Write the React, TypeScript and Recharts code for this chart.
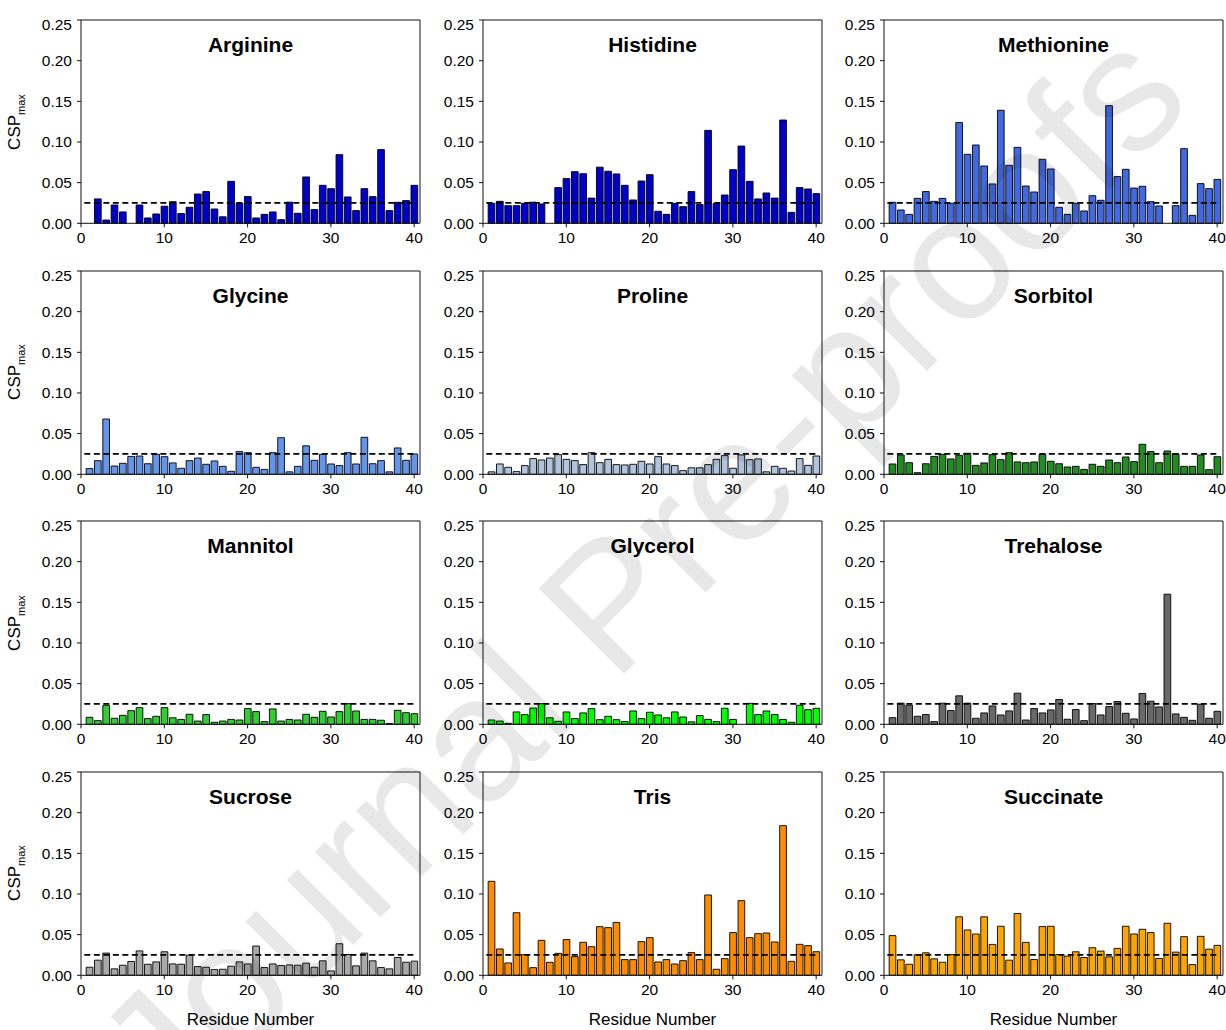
import React from 'react'
import { BarChart, Bar, XAxis, YAxis, ReferenceLine } from 'recharts'

// residue numbers (x categories)
const residues = [
  1, 2, 3, 4, 5, 6, 7, 8, 9, 10, 11, 12, 13, 14, 15, 16, 17, 18, 19, 20,
  21, 22, 23, 24, 25, 26, 27, 28, 29, 30, 31, 32, 33, 34, 35, 36, 37, 38, 39, 40,
]
const xTicks = [0, 10, 20, 30, 40]
const yTicks = [0, 0.05, 0.1, 0.15, 0.2, 0.25]
const threshold = 0.025

// CSP max per residue (null = no bar)
const arginine = [null, 0.030, 0.004, 0.0225, 0.014, null, 0.0225, 0.0066, 0.0115, 0.021, 0.0266, 0.012, 0.0197, 0.036, 0.039, 0.0176, 0.008, 0.0516, 0.0246, 0.0328, 0.0066, 0.011, 0.014, 0.0045, 0.026, 0.0123, 0.057, 0.017, 0.0467, 0.0426, 0.0844, 0.0324, 0.0156, 0.0426, 0.0328, 0.0906, 0.0156, 0.0258, 0.0279, 0.0467]
const histidine = [0.0246, 0.027, 0.0217, 0.0217, 0.0246, 0.026, 0.0238, null, 0.0439, 0.055, 0.0635, 0.061, 0.031, 0.069, 0.064, 0.0607, 0.0467, 0.0287, 0.052, 0.0598, 0.0148, 0.011, 0.0246, 0.0205, 0.039, 0.023, 0.1143, 0.0242, 0.0348, 0.066, 0.095, 0.0516, 0.030, 0.0373, 0.031, 0.127, 0.0135, 0.0439, 0.0422, 0.0365]
const methionine = [0.0258, 0.0164, 0.011, 0.0307, 0.039, 0.027, 0.0307, 0.0246, 0.124, 0.0848, 0.0963, 0.0705, 0.0484, 0.139, 0.0713, 0.0934, 0.0459, 0.0385, 0.0787, 0.0668, 0.0197, 0.011, 0.0246, 0.0152, 0.034, 0.0283, 0.1447, 0.0574, 0.0664, 0.0434, 0.0455, 0.0266, 0.0213, null, 0.0217, 0.0918, 0.0098, 0.0488, 0.0426, 0.054]
const glycine = [0.007, 0.0168, 0.068, 0.0102, 0.0135, 0.022, 0.0225, 0.013, 0.0246, 0.0217, 0.014, 0.0074, 0.0168, 0.020, 0.0123, 0.0164, 0.0098, 0.0037, 0.0279, 0.0266, 0.0086, 0.006, 0.0266, 0.045, 0.003, 0.0098, 0.035, 0.0172, 0.0246, 0.0127, 0.0107, 0.0266, 0.0127, 0.0455, 0.013, 0.0168, 0.003, 0.0324, 0.0172, 0.025]
const proline = [0.003, 0.0127, 0.0086, 0.0033, 0.0107, 0.0193, 0.0176, 0.020, 0.0242, 0.0184, 0.0168, 0.0119, 0.0266, 0.0143, 0.0184, 0.0119, 0.0115, 0.0123, 0.016, 0.0127, 0.0217, 0.0127, 0.0107, 0.0045, 0.008, 0.008, 0.0119, 0.0184, 0.023, 0.0074, 0.0238, 0.018, 0.0189, 0.003, 0.0098, 0.0074, 0.004, 0.0193, 0.011, 0.0225]
const sorbitol = [0.0127, 0.0238, 0.0143, 0.002, 0.013, 0.022, 0.0246, 0.0189, 0.0234, 0.0258, 0.011, 0.014, 0.0242, 0.018, 0.0266, 0.0152, 0.0143, 0.0152, 0.0246, 0.016, 0.013, 0.009, 0.0098, 0.006, 0.0123, 0.0098, 0.0176, 0.0143, 0.0213, 0.0156, 0.0369, 0.0279, 0.0143, 0.0287, 0.025, 0.0098, 0.0098, 0.0238, 0.0057, 0.0217]
const mannitol = [0.0086, 0.0045, 0.0234, 0.0074, 0.011, 0.0168, 0.0205, 0.007, 0.0098, 0.0205, 0.008, 0.006, 0.0123, 0.004, 0.0119, 0.0025, 0.004, 0.006, 0.0053, 0.0193, 0.0156, 0.0033, 0.0189, 0.004, 0.006, 0.0053, 0.0123, 0.0086, 0.016, 0.009, 0.0156, 0.0254, 0.0164, 0.006, 0.006, 0.005, 0.001, 0.0172, 0.0143, 0.013]
const glycerol = [0.0053, 0.004, 0.0012, 0.0152, 0.0119, 0.020, 0.0254, 0.008, 0.0037, 0.0152, 0.007, 0.014, 0.0193, 0.0057, 0.0098, 0.0057, 0.0033, 0.0164, 0.007, 0.0148, 0.0115, 0.008, 0.0152, 0.009, 0.003, 0.0107, 0.006, 0.0033, 0.0197, 0.006, null, 0.0258, 0.0119, 0.0164, 0.0119, 0.006, 0.0025, 0.0234, 0.018, 0.0197]
const trehalose = [0.0082, 0.026, 0.0235, 0.0099, 0.012, 0.0033, 0.026, 0.0169, 0.035, 0.026, 0.0074, 0.014, 0.0226, 0.0115, 0.0165, 0.0383, 0.0053, 0.0193, 0.014, 0.0177, 0.0305, 0.0062, 0.0181, 0.0045, 0.0255, 0.0115, 0.0218, 0.028, 0.0136, 0.0066, 0.0379, 0.0284, 0.0214, 0.160, 0.0128, 0.0086, 0.0049, 0.0247, 0.0074, 0.016]
const sucrose = [0.0099, 0.0186, 0.0273, 0.0079, 0.0124, 0.017, 0.030, 0.0136, 0.0165, 0.0289, 0.014, 0.0136, 0.0248, 0.0107, 0.0099, 0.007, 0.0074, 0.0112, 0.0165, 0.014, 0.036, 0.0095, 0.014, 0.012, 0.0128, 0.0124, 0.0149, 0.0099, 0.0178, 0.0054, 0.0388, 0.0256, 0.0116, 0.0273, 0.0178, 0.0095, 0.0079, 0.0219, 0.0161, 0.0174]
const tris = [0.1156, 0.0324, 0.0152, 0.077, 0.0254, 0.0094, 0.043, 0.016, 0.027, 0.0439, 0.023, 0.0406, 0.0352, 0.0598, 0.0586, 0.065, 0.0193, 0.0193, 0.0414, 0.0463, 0.0164, 0.0193, 0.0139, 0.018, 0.0279, 0.0193, 0.0988, 0.0074, 0.0205, 0.0525, 0.0918, 0.0463, 0.0512, 0.052, 0.041, 0.184, 0.0172, 0.0381, 0.0365, 0.029]
const succinate = [0.0488, 0.019, 0.0136, 0.0252, 0.0277, 0.0202, 0.0161, 0.0256, 0.0719, 0.0558, 0.0508, 0.0719, 0.038, 0.0603, 0.0186, 0.076, 0.0405, 0.0194, 0.0599, 0.0603, 0.0256, 0.0236, 0.0289, 0.0219, 0.0339, 0.0298, 0.0227, 0.0331, 0.0603, 0.0508, 0.0566, 0.0525, 0.0207, 0.064, 0.0285, 0.0475, 0.0132, 0.0479, 0.0322, 0.0368]

const panels = [
  { title: 'Arginine', values: arginine, color: '#0000CD' },
  { title: 'Histidine', values: histidine, color: '#0000CD' },
  { title: 'Methionine', values: methionine, color: '#4169E1' },
  { title: 'Glycine', values: glycine, color: '#6495ED' },
  { title: 'Proline', values: proline, color: '#B0C4DE' },
  { title: 'Sorbitol', values: sorbitol, color: '#228B22' },
  { title: 'Mannitol', values: mannitol, color: '#32CD32' },
  { title: 'Glycerol', values: glycerol, color: '#00FF00' },
  { title: 'Trehalose', values: trehalose, color: '#696969' },
  { title: 'Sucrose', values: sucrose, color: '#A9A9A9' },
  { title: 'Tris', values: tris, color: '#FF8C00' },
  { title: 'Succinate', values: succinate, color: '#FFA500' },
]

const FONT = '"Liberation Sans", Arial, Helvetica, sans-serif'
const PLOT_LEFT = [81, 483, 884]
const PLOT_TOP0 = 20
const ROW_PITCH = 250.6
const PLOT_W = 339
const PLOT_H = 203.3
const AXIS_W = 60
const X_AXIS_H = 30
const M_TOP = 5
const M_RIGHT = 4
const X_MAX = 40.7

function Panel({ title, values, color, col, row }: any) {
  const data = residues.map((r, i) => ({ residue: r, csp: values[i] }))
  const plotTop = PLOT_TOP0 + row * ROW_PITCH
  const tickStyle = { fill: '#000', fontSize: 15.5, fontFamily: FONT }
  return (
    <>
      <div style={{ position: 'absolute', left: PLOT_LEFT[col] - AXIS_W, top: plotTop - M_TOP }}>
        <BarChart
          width={AXIS_W + PLOT_W + M_RIGHT}
          height={M_TOP + PLOT_H + X_AXIS_H}
          data={data}
          margin={{ top: M_TOP, right: M_RIGHT, bottom: 0, left: 0 }}
          barSize={6.7}
        >
          <XAxis
            dataKey="residue"
            type="number"
            domain={[0, X_MAX]}
            ticks={xTicks}
            allowDataOverflow
            height={X_AXIS_H}
            stroke="#111"
            tickSize={4}
            tickMargin={5}
            tick={tickStyle}
          />
          <YAxis
            type="number"
            domain={[0, 0.25]}
            ticks={yTicks}
            width={AXIS_W}
            stroke="#111"
            tickSize={4}
            tickMargin={5}
            tick={tickStyle}
            tickFormatter={(v: number) => v.toFixed(2)}
          />
          <Bar dataKey="csp" fill={color} stroke="#000" strokeWidth={0.9} isAnimationActive={false} />
          <ReferenceLine
            segment={[{ x: 0.4, y: threshold }, { x: 40, y: threshold }]}
            stroke="#000"
            strokeWidth={1.8}
            strokeDasharray="6 3.5"
          />
          <ReferenceLine y={0.25} stroke="#111" />
          <ReferenceLine x={X_MAX} stroke="#111" />
        </BarChart>
      </div>
      <div
        style={{
          position: 'absolute',
          left: PLOT_LEFT[col],
          width: PLOT_W,
          top: plotTop + 12,
          textAlign: 'center',
          fontFamily: FONT,
          fontWeight: 'bold',
          fontSize: 21,
          lineHeight: '26px',
          color: '#000',
        }}
      >
        {title}
      </div>
    </>
  )
}

export default function App() {
  return (
    <div style={{ position: 'absolute', left: 0, top: 0, width: 1226, height: 1030, background: '#fff', overflow: 'hidden' }}>
      {panels.map((p, i) => (
        <Panel key={p.title} {...p} col={i % 3} row={Math.floor(i / 3)} />
      ))}
      {[0, 1, 2, 3].map(r => (
        <div
          key={'yl' + r}
          style={{
            position: 'absolute',
            left: 16,
            top: PLOT_TOP0 + r * ROW_PITCH + PLOT_H / 2,
            transform: 'translate(-50%, -50%) rotate(-90deg)',
            whiteSpace: 'nowrap',
            fontFamily: FONT,
            fontSize: 17,
            color: '#000',
          }}
        >
          CSP<sub style={{ fontSize: 11 }}>max</sub>
        </div>
      ))}
      {[0, 1, 2].map(c => (
        <div
          key={'xl' + c}
          style={{
            position: 'absolute',
            left: PLOT_LEFT[c],
            width: PLOT_W,
            top: 1009,
            textAlign: 'center',
            fontFamily: FONT,
            fontSize: 17,
            lineHeight: '22px',
            color: '#000',
          }}
        >
          Residue Number
        </div>
      ))}
      <div
        style={{
          position: 'absolute',
          left: 640,
          top: 572,
          transform: 'translate(-50%, -50%) rotate(-45deg)',
          whiteSpace: 'nowrap',
          fontFamily: FONT,
          fontSize: 176,
          color: 'rgba(0,0,0,0.09)',
          pointerEvents: 'none',
        }}
      >
        Journal Pre-proofs
      </div>
    </div>
  )
}
